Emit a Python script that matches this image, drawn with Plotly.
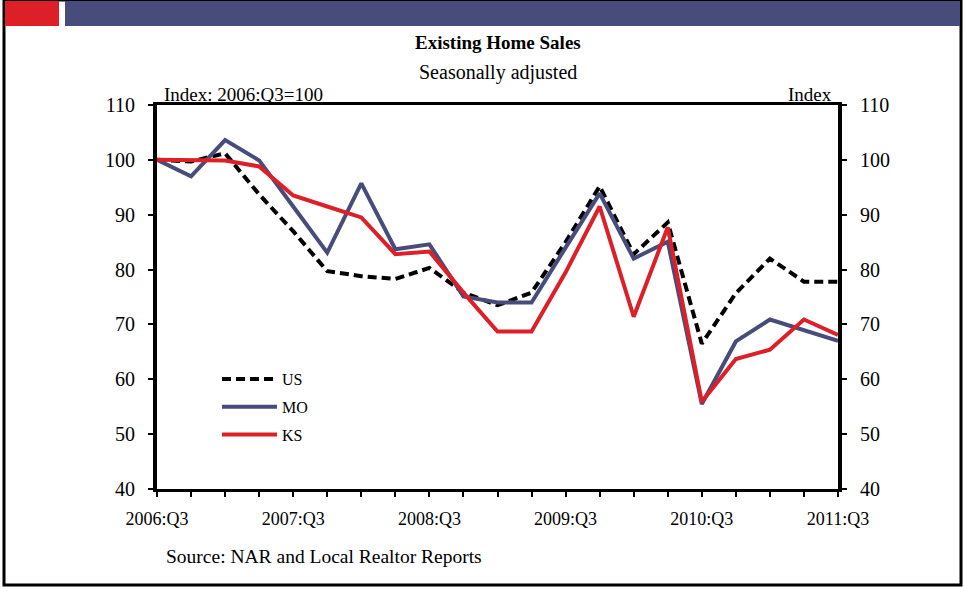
import plotly.graph_objects as go

# ---------------- data ----------------
quarters = ["2006:Q3", "2006:Q4", "2007:Q1", "2007:Q2", "2007:Q3", "2007:Q4",
            "2008:Q1", "2008:Q2", "2008:Q3", "2008:Q4", "2009:Q1", "2009:Q2",
            "2009:Q3", "2009:Q4", "2010:Q1", "2010:Q2", "2010:Q3", "2010:Q4",
            "2011:Q1", "2011:Q2", "2011:Q3"]
us = [100, 99.7, 101.2, 93.7, 87.0, 79.7, 78.8, 78.3, 80.3, 75.8, 73.5, 75.8,
      85.0, 95.2, 82.8, 88.6, 66.5, 75.7, 82.0, 77.8, 77.8]
mo = [100, 97.0, 103.6, 99.9, 91.5, 83.1, 95.7, 83.7, 84.6, 75.1, 74.0, 74.0,
      84.0, 93.9, 82.0, 85.1, 55.5, 66.9, 70.9, 69.0, 67.0]
ks = [100, 100, 99.9, 98.8, 93.5, 91.5, 89.5, 82.8, 83.3, 75.8, 68.7, 68.7,
      79.5, 91.5, 71.4, 87.7, 55.9, 63.7, 65.4, 70.9, 68.1]
tick_labels = [q if q.endswith("Q3") else "" for q in quarters]

# ---------------- layout constants ----------------
W, H = 965, 592
L, R, T, B = 157, 838, 105, 489
FONT = "Liberation Serif"
RED = "rgb(221,32,39)"
NAVY = "rgb(72,76,122)"


def px(x):
    return (x - L) / (R - L)


def py(y):
    return (B - y) / (B - T)


fig = go.Figure()
fig.add_trace(go.Scatter(x=quarters, y=us, name="US", mode="lines",
                         line=dict(color="black", width=4, dash="9px,5px"),
                         legendgroup="a"))
fig.add_trace(go.Scatter(x=quarters, y=mo, name="MO", mode="lines",
                         line=dict(color=NAVY, width=4), legendgroup="b"))
fig.add_trace(go.Scatter(x=quarters, y=ks, name="KS", mode="lines",
                         line=dict(color=RED, width=4), legendgroup="c"))
# invisible trace to drive right axis
fig.add_trace(go.Scatter(x=quarters, y=us, yaxis="y2", mode="lines",
                         line=dict(width=0), showlegend=False, hoverinfo="skip",
                         opacity=0))

fig.update_layout(
    width=W, height=H,
    margin=dict(l=L, r=W - R, t=T, b=H - B),
    paper_bgcolor="white", plot_bgcolor="white",
    font=dict(family=FONT, size=19, color="black"),
    showlegend=True,
    legend=dict(x=px(217), y=py(362), xanchor="left", yanchor="top",
                font=dict(family=FONT, size=16), bgcolor="rgba(0,0,0,0)",
                itemwidth=55, tracegroupgap=4, traceorder="grouped"),
    xaxis=dict(type="category", range=[0, 20], tickmode="array",
               tickvals=quarters, ticktext=tick_labels,
               showgrid=False, zeroline=False,
               showline=True, linewidth=3, linecolor="black", mirror=True,
               ticks="outside", ticklen=5, tickwidth=2, tickcolor="black",
               ticklabelstandoff=6,
               tickfont=dict(family=FONT, size=18)),
    yaxis=dict(range=[40, 110], dtick=10, showgrid=False, zeroline=False,
               showline=True, linewidth=4, linecolor="black",
               ticks="outside", ticklen=5, tickwidth=2, tickcolor="black",
               ticklabelstandoff=9,
               tickfont=dict(family=FONT, size=20)),
    yaxis2=dict(range=[40, 110], dtick=10, overlaying="y", side="right",
                showgrid=False, zeroline=False,
                showline=True, linewidth=4, linecolor="black",
                ticks="outside", ticklen=5, tickwidth=2, tickcolor="black",
                ticklabelstandoff=9,
                tickfont=dict(family=FONT, size=20)),
)

# frame and banner
fig.add_shape(type="rect", xref="paper", yref="paper",
              x0=px(4), x1=px(961), y0=py(0), y1=py(585),
              line=dict(color="black", width=3), fillcolor="rgba(0,0,0,0)", layer="below")
fig.add_shape(type="rect", xref="paper", yref="paper",
              x0=px(5), x1=px(59), y0=py(1), y1=py(26),
              line=dict(width=0), fillcolor=RED)
fig.add_shape(type="rect", xref="paper", yref="paper",
              x0=px(65), x1=px(960), y0=py(1), y1=py(26),
              line=dict(width=0), fillcolor=NAVY)

ann = [
    dict(text="<b>Existing Home Sales</b>", x=px(498), y=py(42), size=19, xanchor="center"),
    dict(text="Seasonally adjusted", x=px(498), y=py(72), size=20, xanchor="center"),
    dict(text="Index: 2006:Q3=100", x=px(162), y=py(94), size=19, xanchor="left"),
    dict(text="Index", x=px(834), y=py(94), size=19, xanchor="right"),
    dict(text="Source: NAR and Local Realtor Reports", x=px(164), y=py(556), size=19.5, xanchor="left"),
]
for a in ann:
    fig.add_annotation(text=a["text"], x=a["x"], y=a["y"], xref="paper", yref="paper",
                       xanchor=a["xanchor"], yanchor="middle", showarrow=False,
                       font=dict(family=FONT, size=a["size"], color="black"))

fig.write_html("out.html", config={"displayModeBar": False},
               post_script="document.body.style.margin='0';document.body.style.padding='0';")
